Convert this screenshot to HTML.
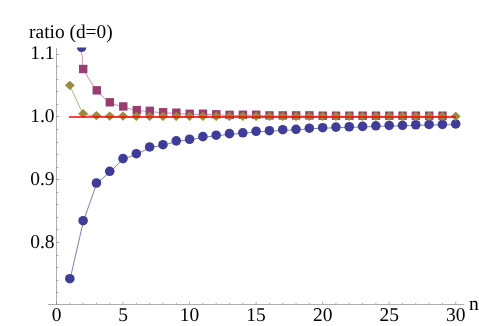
<!DOCTYPE html>
<html><head><meta charset="utf-8"><title>plot</title>
<style>html,body{margin:0;padding:0;background:#fff;overflow:hidden}svg{display:block;will-change:transform}</style></head>
<body>
<svg width="479" height="326" viewBox="0 0 479 326">
<rect width="479" height="326" fill="#fff"/>
<defs><clipPath id="c"><rect x="40" y="47.6" width="439" height="270"/></clipPath></defs>
<g stroke="#777777" stroke-width="0.6" fill="none">
<line x1="48" y1="304.5" x2="464.3" y2="304.5"/>
<line x1="56.5" y1="47.8" x2="56.5" y2="304.5"/>
<line x1="56.50" y1="304.5" x2="56.50" y2="301.7"/>
<line x1="69.81" y1="304.5" x2="69.81" y2="302.8"/>
<line x1="83.11" y1="304.5" x2="83.11" y2="302.8"/>
<line x1="96.42" y1="304.5" x2="96.42" y2="302.8"/>
<line x1="109.73" y1="304.5" x2="109.73" y2="302.8"/>
<line x1="123.03" y1="304.5" x2="123.03" y2="301.7"/>
<line x1="136.34" y1="304.5" x2="136.34" y2="302.8"/>
<line x1="149.65" y1="304.5" x2="149.65" y2="302.8"/>
<line x1="162.96" y1="304.5" x2="162.96" y2="302.8"/>
<line x1="176.26" y1="304.5" x2="176.26" y2="302.8"/>
<line x1="189.57" y1="304.5" x2="189.57" y2="301.7"/>
<line x1="202.88" y1="304.5" x2="202.88" y2="302.8"/>
<line x1="216.18" y1="304.5" x2="216.18" y2="302.8"/>
<line x1="229.49" y1="304.5" x2="229.49" y2="302.8"/>
<line x1="242.80" y1="304.5" x2="242.80" y2="302.8"/>
<line x1="256.11" y1="304.5" x2="256.11" y2="301.7"/>
<line x1="269.41" y1="304.5" x2="269.41" y2="302.8"/>
<line x1="282.72" y1="304.5" x2="282.72" y2="302.8"/>
<line x1="296.03" y1="304.5" x2="296.03" y2="302.8"/>
<line x1="309.33" y1="304.5" x2="309.33" y2="302.8"/>
<line x1="322.64" y1="304.5" x2="322.64" y2="301.7"/>
<line x1="335.95" y1="304.5" x2="335.95" y2="302.8"/>
<line x1="349.25" y1="304.5" x2="349.25" y2="302.8"/>
<line x1="362.56" y1="304.5" x2="362.56" y2="302.8"/>
<line x1="375.87" y1="304.5" x2="375.87" y2="302.8"/>
<line x1="389.18" y1="304.5" x2="389.18" y2="301.7"/>
<line x1="402.48" y1="304.5" x2="402.48" y2="302.8"/>
<line x1="415.79" y1="304.5" x2="415.79" y2="302.8"/>
<line x1="429.10" y1="304.5" x2="429.10" y2="302.8"/>
<line x1="442.40" y1="304.5" x2="442.40" y2="302.8"/>
<line x1="455.71" y1="304.5" x2="455.71" y2="301.7"/>
<line x1="56.5" y1="292.5" x2="58.4" y2="292.5"/>
<line x1="56.5" y1="280.5" x2="58.4" y2="280.5"/>
<line x1="56.5" y1="267.5" x2="58.4" y2="267.5"/>
<line x1="56.5" y1="255.5" x2="58.4" y2="255.5"/>
<line x1="56.5" y1="242.5" x2="59.3" y2="242.5"/>
<line x1="56.5" y1="229.5" x2="58.4" y2="229.5"/>
<line x1="56.5" y1="217.5" x2="58.4" y2="217.5"/>
<line x1="56.5" y1="204.5" x2="58.4" y2="204.5"/>
<line x1="56.5" y1="192.5" x2="58.4" y2="192.5"/>
<line x1="56.5" y1="179.5" x2="59.3" y2="179.5"/>
<line x1="56.5" y1="167.5" x2="58.4" y2="167.5"/>
<line x1="56.5" y1="154.5" x2="58.4" y2="154.5"/>
<line x1="56.5" y1="142.5" x2="58.4" y2="142.5"/>
<line x1="56.5" y1="129.5" x2="58.4" y2="129.5"/>
<line x1="56.5" y1="116.5" x2="59.3" y2="116.5"/>
<line x1="56.5" y1="104.5" x2="58.4" y2="104.5"/>
<line x1="56.5" y1="91.5" x2="58.4" y2="91.5"/>
<line x1="56.5" y1="79.5" x2="58.4" y2="79.5"/>
<line x1="56.5" y1="66.5" x2="58.4" y2="66.5"/>
<line x1="56.5" y1="54.5" x2="59.3" y2="54.5"/>
</g>
<g clip-path="url(#c)">
<polyline points="70.06,279.30 83.36,221.30 96.67,183.60 109.98,171.90 123.28,159.20 136.59,154.30 149.90,147.55 163.21,145.30 176.51,141.45 189.82,139.85 203.13,137.25 216.43,135.80 229.74,134.25 243.05,133.40 256.36,131.85 269.66,131.30 282.97,130.30 296.28,129.90 309.58,128.80 322.89,128.30 336.20,127.70 349.50,127.35 362.81,127.00 376.12,126.40 389.43,126.05 402.73,125.90 416.04,125.35 429.35,125.05 442.65,124.95 455.96,124.55" fill="none" stroke="#3f3d99" stroke-width="0.75" stroke-opacity="0.9"/>
<circle cx="69.81" cy="278.70" r="4.8" fill="#3f3d99"/>
<circle cx="83.11" cy="220.70" r="4.8" fill="#3f3d99"/>
<circle cx="96.42" cy="183.00" r="4.8" fill="#3f3d99"/>
<circle cx="109.73" cy="171.30" r="4.8" fill="#3f3d99"/>
<circle cx="123.03" cy="158.60" r="4.8" fill="#3f3d99"/>
<circle cx="136.34" cy="153.70" r="4.8" fill="#3f3d99"/>
<circle cx="149.65" cy="146.95" r="4.8" fill="#3f3d99"/>
<circle cx="162.96" cy="144.70" r="4.8" fill="#3f3d99"/>
<circle cx="176.26" cy="140.85" r="4.8" fill="#3f3d99"/>
<circle cx="189.57" cy="139.25" r="4.8" fill="#3f3d99"/>
<circle cx="202.88" cy="136.65" r="4.8" fill="#3f3d99"/>
<circle cx="216.18" cy="135.20" r="4.8" fill="#3f3d99"/>
<circle cx="229.49" cy="133.65" r="4.8" fill="#3f3d99"/>
<circle cx="242.80" cy="132.80" r="4.8" fill="#3f3d99"/>
<circle cx="256.11" cy="131.25" r="4.8" fill="#3f3d99"/>
<circle cx="269.41" cy="130.70" r="4.8" fill="#3f3d99"/>
<circle cx="282.72" cy="129.70" r="4.8" fill="#3f3d99"/>
<circle cx="296.03" cy="129.30" r="4.8" fill="#3f3d99"/>
<circle cx="309.33" cy="128.20" r="4.8" fill="#3f3d99"/>
<circle cx="322.64" cy="127.70" r="4.8" fill="#3f3d99"/>
<circle cx="335.95" cy="127.10" r="4.8" fill="#3f3d99"/>
<circle cx="349.25" cy="126.75" r="4.8" fill="#3f3d99"/>
<circle cx="362.56" cy="126.40" r="4.8" fill="#3f3d99"/>
<circle cx="375.87" cy="125.80" r="4.8" fill="#3f3d99"/>
<circle cx="389.18" cy="125.45" r="4.8" fill="#3f3d99"/>
<circle cx="402.48" cy="125.30" r="4.8" fill="#3f3d99"/>
<circle cx="415.79" cy="124.75" r="4.8" fill="#3f3d99"/>
<circle cx="429.10" cy="124.45" r="4.8" fill="#3f3d99"/>
<circle cx="442.40" cy="124.35" r="4.8" fill="#3f3d99"/>
<circle cx="455.71" cy="123.95" r="4.8" fill="#3f3d99"/>
<polyline points="83.21,69.60 96.52,90.95 109.83,102.90 123.13,107.05 136.44,110.70 149.75,111.45 163.06,112.85 176.36,113.30 189.67,114.40 202.98,114.30 216.28,114.90 229.59,115.50 242.90,115.35 256.21,115.35 269.51,116.00 282.82,116.00 296.13,116.00 309.43,116.00 322.74,116.30 336.05,116.30 349.35,116.30 362.66,116.30 375.97,116.30 389.28,116.30 402.58,116.30 415.89,116.30 429.20,116.30 442.50,116.30" fill="none" stroke="#993d71" stroke-width="0.65" stroke-opacity="0.9"/>
<path d="M81.35,46 L81.35,52.3 C81.45,54 82.25,55.2 82.38,57 L82.5,68" fill="none" stroke="#993d71" stroke-width="0.6" stroke-opacity="0.85"/>
<circle cx="81.6" cy="47.3" r="4.8" fill="#3f3d99"/>
<rect x="79.01" y="64.80" width="8.4" height="8.4" fill="#993d71"/>
<rect x="92.57" y="86.15" width="8.4" height="8.4" fill="#993d71"/>
<rect x="105.63" y="98.10" width="8.4" height="8.4" fill="#993d71"/>
<rect x="119.08" y="102.25" width="8.4" height="8.4" fill="#993d71"/>
<rect x="132.54" y="105.90" width="8.4" height="8.4" fill="#993d71"/>
<rect x="145.60" y="106.65" width="8.4" height="8.4" fill="#993d71"/>
<rect x="158.91" y="108.05" width="8.4" height="8.4" fill="#993d71"/>
<rect x="172.16" y="108.50" width="8.4" height="8.4" fill="#993d71"/>
<rect x="185.47" y="109.60" width="8.4" height="8.4" fill="#993d71"/>
<rect x="198.78" y="109.50" width="8.4" height="8.4" fill="#993d71"/>
<rect x="212.08" y="110.10" width="8.4" height="8.4" fill="#993d71"/>
<rect x="225.39" y="110.70" width="8.4" height="8.4" fill="#993d71"/>
<rect x="238.70" y="110.55" width="8.4" height="8.4" fill="#993d71"/>
<rect x="252.01" y="110.55" width="8.4" height="8.4" fill="#993d71"/>
<rect x="265.31" y="111.20" width="8.4" height="8.4" fill="#993d71"/>
<rect x="278.62" y="111.20" width="8.4" height="8.4" fill="#993d71"/>
<rect x="291.93" y="111.20" width="8.4" height="8.4" fill="#993d71"/>
<rect x="305.23" y="111.20" width="8.4" height="8.4" fill="#993d71"/>
<rect x="318.54" y="111.50" width="8.4" height="8.4" fill="#993d71"/>
<rect x="331.85" y="111.50" width="8.4" height="8.4" fill="#993d71"/>
<rect x="345.15" y="111.50" width="8.4" height="8.4" fill="#993d71"/>
<rect x="358.46" y="111.50" width="8.4" height="8.4" fill="#993d71"/>
<rect x="371.77" y="111.50" width="8.4" height="8.4" fill="#993d71"/>
<rect x="385.08" y="111.50" width="8.4" height="8.4" fill="#993d71"/>
<rect x="398.38" y="111.50" width="8.4" height="8.4" fill="#993d71"/>
<rect x="411.69" y="111.50" width="8.4" height="8.4" fill="#993d71"/>
<rect x="425.00" y="111.50" width="8.4" height="8.4" fill="#993d71"/>
<rect x="438.30" y="111.50" width="8.4" height="8.4" fill="#993d71"/>
<polyline points="69.86,85.90 83.16,114.30 96.47,116.15 109.78,116.65 123.08,116.70 136.39,116.95 149.70,116.95 163.01,116.95 176.31,116.95 189.62,116.95 202.93,116.95 216.23,116.95 229.54,116.95 242.85,116.95 256.16,116.95 269.46,116.95 282.77,116.95 296.08,116.95 309.38,116.95 322.69,116.95 336.00,116.95 349.30,116.95 362.61,116.95 375.92,116.95 389.23,116.95 402.53,116.95 415.84,116.95 429.15,116.95 442.45,116.95 455.76,116.95" fill="none" stroke="#998b3d" stroke-width="0.75" stroke-opacity="0.9"/>
<polygon points="64.86,85.30 69.81,80.65 74.76,85.30 69.81,89.95" fill="#998b3d"/>
<polygon points="78.16,113.70 83.11,109.05 88.06,113.70 83.11,118.35" fill="#998b3d"/>
<polygon points="91.47,115.55 96.42,110.90 101.37,115.55 96.42,120.20" fill="#998b3d"/>
<polygon points="104.78,116.05 109.73,111.40 114.68,116.05 109.73,120.70" fill="#998b3d"/>
<polygon points="118.08,116.10 123.03,111.45 127.98,116.10 123.03,120.75" fill="#998b3d"/>
<polygon points="131.39,116.35 136.34,111.70 141.29,116.35 136.34,121.00" fill="#998b3d"/>
<polygon points="144.70,116.35 149.65,111.70 154.60,116.35 149.65,121.00" fill="#998b3d"/>
<polygon points="158.01,116.35 162.96,111.70 167.91,116.35 162.96,121.00" fill="#998b3d"/>
<polygon points="171.31,116.35 176.26,111.70 181.21,116.35 176.26,121.00" fill="#998b3d"/>
<polygon points="184.62,116.35 189.57,111.70 194.52,116.35 189.57,121.00" fill="#998b3d"/>
<polygon points="197.93,116.35 202.88,111.70 207.83,116.35 202.88,121.00" fill="#998b3d"/>
<polygon points="211.23,116.35 216.18,111.70 221.13,116.35 216.18,121.00" fill="#998b3d"/>
<polygon points="224.54,116.35 229.49,111.70 234.44,116.35 229.49,121.00" fill="#998b3d"/>
<polygon points="237.85,116.35 242.80,111.70 247.75,116.35 242.80,121.00" fill="#998b3d"/>
<polygon points="251.16,116.35 256.11,111.70 261.06,116.35 256.11,121.00" fill="#998b3d"/>
<polygon points="264.46,116.35 269.41,111.70 274.36,116.35 269.41,121.00" fill="#998b3d"/>
<polygon points="277.77,116.35 282.72,111.70 287.67,116.35 282.72,121.00" fill="#998b3d"/>
<polygon points="291.08,116.35 296.03,111.70 300.98,116.35 296.03,121.00" fill="#998b3d"/>
<polygon points="304.38,116.35 309.33,111.70 314.28,116.35 309.33,121.00" fill="#998b3d"/>
<polygon points="317.69,116.35 322.64,111.70 327.59,116.35 322.64,121.00" fill="#998b3d"/>
<polygon points="331.00,116.35 335.95,111.70 340.90,116.35 335.95,121.00" fill="#998b3d"/>
<polygon points="344.30,116.35 349.25,111.70 354.20,116.35 349.25,121.00" fill="#998b3d"/>
<polygon points="357.61,116.35 362.56,111.70 367.51,116.35 362.56,121.00" fill="#998b3d"/>
<polygon points="370.92,116.35 375.87,111.70 380.82,116.35 375.87,121.00" fill="#998b3d"/>
<polygon points="384.23,116.35 389.18,111.70 394.12,116.35 389.18,121.00" fill="#998b3d"/>
<polygon points="397.53,116.35 402.48,111.70 407.43,116.35 402.48,121.00" fill="#998b3d"/>
<polygon points="410.84,116.35 415.79,111.70 420.74,116.35 415.79,121.00" fill="#998b3d"/>
<polygon points="424.15,116.35 429.10,111.70 434.05,116.35 429.10,121.00" fill="#998b3d"/>
<polygon points="437.45,116.35 442.40,111.70 447.35,116.35 442.40,121.00" fill="#998b3d"/>
<polygon points="450.76,116.35 455.71,111.70 460.66,116.35 455.71,121.00" fill="#998b3d"/>
<line x1="68.91" y1="116.98" x2="456.01" y2="116.98" stroke="#ff0000" stroke-width="1.7"/>
</g>
<g font-family="Liberation Serif, serif" font-size="19.5px" fill="#000" text-rendering="geometricPrecision">
<text x="29.1" y="38.4" textLength="83.6" lengthAdjust="spacingAndGlyphs">ratio (d=0)</text>
<text x="469" y="309.5">n</text>
<text x="56.50" y="321.3" text-anchor="middle">0</text>
<text x="123.03" y="321.3" text-anchor="middle">5</text>
<text x="189.57" y="321.3" text-anchor="middle">10</text>
<text x="256.11" y="321.3" text-anchor="middle">15</text>
<text x="322.64" y="321.3" text-anchor="middle">20</text>
<text x="389.18" y="321.3" text-anchor="middle">25</text>
<text x="455.71" y="321.3" text-anchor="middle">30</text>
<text x="54.6" y="59" text-anchor="end">1.1</text>
<text x="54.6" y="122" text-anchor="end">1.0</text>
<text x="54.6" y="185" text-anchor="end">0.9</text>
<text x="54.6" y="248" text-anchor="end">0.8</text>
</g>
</svg>
</body></html>
